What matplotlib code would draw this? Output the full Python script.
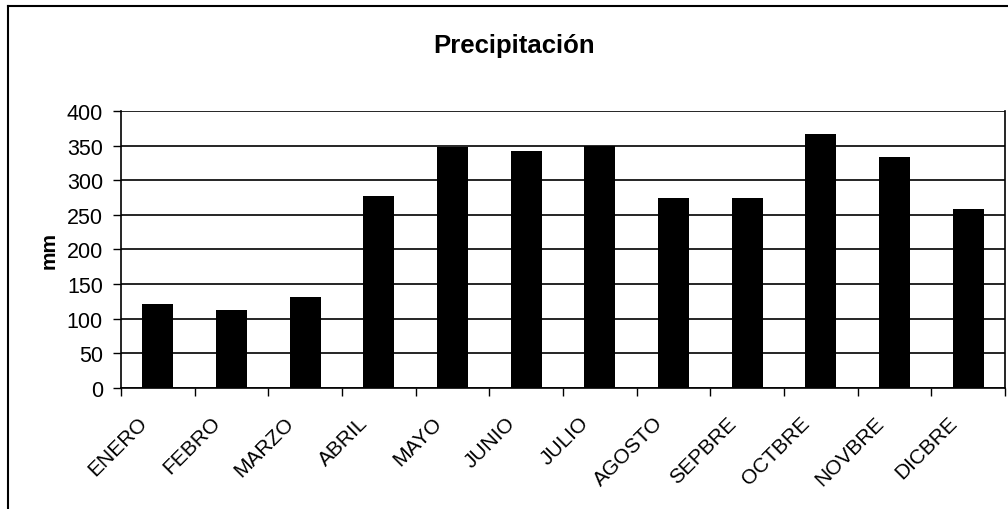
import numpy as np
import matplotlib.pyplot as plt
import matplotlib.transforms as mtrans
from matplotlib.lines import Line2D

meses = ['ENERO', 'FEBRO', 'MARZO', 'ABRIL', 'MAYO', 'JUNIO',
         'JULIO', 'AGOSTO', 'SEPBRE', 'OCTBRE', 'NOVBRE', 'DICBRE']
precip = [121, 112, 131, 278, 348, 343, 349, 274, 274, 367, 334, 259]

plt.rcParams['font.family'] = ['Liberation Sans', 'DejaVu Sans']

fig = plt.figure(figsize=(10.08, 5.10), dpi=100)
ax = fig.add_axes([0.120, 0.238, 0.877, 0.542])

x = np.arange(len(meses))
ax.bar(x, precip, width=0.42, color='black', zorder=3)

ax.set_xlim(-0.5, len(meses) - 0.5)
ax.set_ylim(0, 400)
ax.set_yticks(np.arange(0, 401, 50))
ax.yaxis.grid(True, color='black', linewidth=1.2, zorder=0)

# marcas entre categorias, etiquetas en el centro
ax.set_xticks(np.arange(-0.5, len(meses), 1))
ax.set_xticklabels([])
ax.set_xticks(x, minor=True)
ax.set_xticklabels(meses, minor=True, rotation=45, ha='right', va='center',
                   rotation_mode='anchor', fontsize=15)
ax.tick_params(axis='x', which='minor', length=0, pad=23)
ax.tick_params(axis='x', which='major', length=6, direction='out', width=1)
ax.tick_params(axis='y', length=6, direction='out', width=1, labelsize=15.5, pad=7)

desp = mtrans.ScaledTranslation(-14 / 100, 0, fig.dpi_scale_trans)
for lbl in ax.get_xticklabels(minor=True):
    lbl.set_transform(lbl.get_transform() + desp)

ax.spines['top'].set_visible(False)
ax.spines['right'].set_linewidth(1.2)
ax.spines['left'].set_linewidth(1.2)
ax.spines['bottom'].set_linewidth(1.2)

ax.set_ylabel('mm', fontsize=15, fontweight='bold', labelpad=6)
fig.text(0.51, 0.91, 'Precipitación', ha='center', va='center',
         fontsize=18.5, fontweight='bold')

# marco del grafico (solo lados visibles)
fig.add_artist(Line2D([8 / 1008, 8 / 1008], [0, 1 - 7 / 510],
                      color='black', linewidth=1.5))
fig.add_artist(Line2D([8 / 1008, 1], [1 - 7 / 510, 1 - 7 / 510],
                      color='black', linewidth=1.5))

plt.savefig('out.png', dpi=100)
